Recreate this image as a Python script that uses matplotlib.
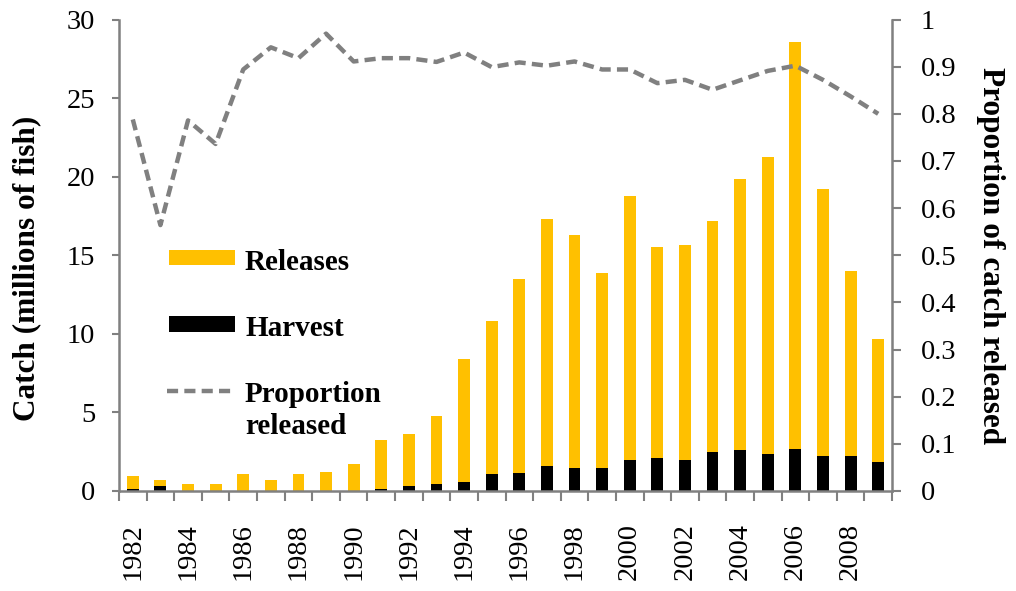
import matplotlib
matplotlib.use("Agg")
import matplotlib.pyplot as plt
from matplotlib.patches import Rectangle
from matplotlib.lines import Line2D
import numpy as np

years = list(range(1982, 2010))
total_catch = [0.95, 0.7, 0.45, 0.45, 1.08, 0.7, 1.08, 1.2, 1.71, 3.23, 3.6, 4.75, 8.43, 10.84,
               13.5, 17.3, 16.3, 13.9, 18.8, 15.5, 15.66, 17.2, 19.85, 21.25, 28.6, 19.2, 14.0, 9.7]
harvest = [0.15, 0.3, 0.02, 0.02, 0.03, 0.03, 0.03, 0.03, 0.03, 0.15, 0.3, 0.45, 0.57, 1.06,
           1.16, 1.57, 1.44, 1.44, 1.95, 2.07, 1.95, 2.47, 2.58, 2.35, 2.7, 2.2, 2.2, 1.84]
releases = [t - h for t, h in zip(total_catch, harvest)]
prop_released = [0.788, 0.564, 0.786, 0.736, 0.894, 0.941, 0.918, 0.97, 0.911, 0.918, 0.918, 0.91,
                 0.93, 0.899, 0.909, 0.902, 0.911, 0.894, 0.894, 0.865, 0.872, 0.851, 0.871, 0.891,
                 0.902, 0.872, 0.837, 0.80]
year_labels = [str(y) if y % 2 == 0 else "" for y in years]
legend_labels = ["Releases", "Harvest", "Proportion", "released"]

serif = ["Liberation Serif", "DejaVu Serif"]
plt.rcParams['font.family'] = serif
gray = "#808080"
yellow = "#FFC000"
dash = (0, (2.5, 1.4))

W, H = 1016, 591
fig = plt.figure(figsize=(W / 100, H / 100), dpi=100)
ax = fig.add_axes([119 / W, 1 - 491 / H, (892 - 119) / W, (491 - 19.5) / H])
x = np.arange(len(years))
w = 0.43
ax.bar(x, harvest, w, color="black", edgecolor="none", zorder=2)
ax.bar(x, releases, w, bottom=harvest, color=yellow, edgecolor="none", zorder=2)
ax.set_xlim(-0.5, len(years) - 0.5)
ax.set_ylim(0, 30)
ax.set_yticks([0, 5, 10, 15, 20, 25, 30])
ax.set_xticks(x)
ax.set_xticklabels(year_labels, rotation=90)
ax.set_xticks(np.arange(-0.5, len(years)), minor=True)
ax.tick_params(axis='x', which='major', length=0, labelsize=20.5, pad=23)
ax.tick_params(axis='x', which='minor', length=7, color=gray, width=1.5, direction='out')
ax.tick_params(axis='y', labelsize=20.5, length=5, color=gray, width=1.5, direction='out', pad=12)
for s in ['left', 'bottom']:
    ax.spines[s].set_color(gray)
    ax.spines[s].set_linewidth(1.8)
ax.spines['top'].set_visible(False)
ax.spines['right'].set_visible(False)
ax.set_ylabel("Catch (millions of fish)", fontsize=22.5, fontweight='bold')
ax.yaxis.set_label_coords(-0.101, 0.472)

ax2 = ax.twinx()
ax2.plot(x, prop_released, color=gray, linestyle=dash, linewidth=3.2, zorder=3)
ax2.set_ylim(0, 1)
ax2.set_yticks([0, 0.1, 0.2, 0.3, 0.4, 0.5, 0.6, 0.7, 0.8, 0.9, 1])
ax2.set_yticklabels(["0", "0.1", "0.2", "0.3", "0.4", "0.5", "0.6", "0.7", "0.8", "0.9", "1"])
ax2.tick_params(axis='y', labelsize=20.5, length=6.5, color=gray, width=1.5, direction='out', pad=14)
for s in ['left', 'top', 'bottom']:
    ax2.spines[s].set_visible(False)
ax2.spines['right'].set_color(gray)
ax2.spines['right'].set_linewidth(1.8)
ax2.set_ylabel("Proportion of catch released", fontsize=22.5, fontweight='bold',
               rotation=-90, va='bottom')
ax2.yaxis.set_label_coords(1.1087, 0.5)

# legend (drawn in figure pixel positions)
def fx(px):
    return px / W

def fy(py):
    return 1 - py / H

fig.add_artist(Rectangle((fx(169), fy(265)), 66 / W, 15 / H, transform=fig.transFigure,
                         facecolor=yellow, edgecolor="none"))
fig.add_artist(Rectangle((fx(169), fy(332)), 66 / W, 16 / H, transform=fig.transFigure,
                         facecolor="black", edgecolor="none"))
fig.add_artist(Line2D([fx(167), fx(236)], [fy(391), fy(391)], transform=fig.transFigure,
                      color=gray, linestyle=dash, linewidth=3.2))
for lab, base in zip(legend_labels, [270, 336, 402, 434]):
    fig.text(fx(245), fy(base), lab, fontsize=21, fontweight='bold', ha='left', va='baseline')

fig.savefig("out.png", dpi=100)
